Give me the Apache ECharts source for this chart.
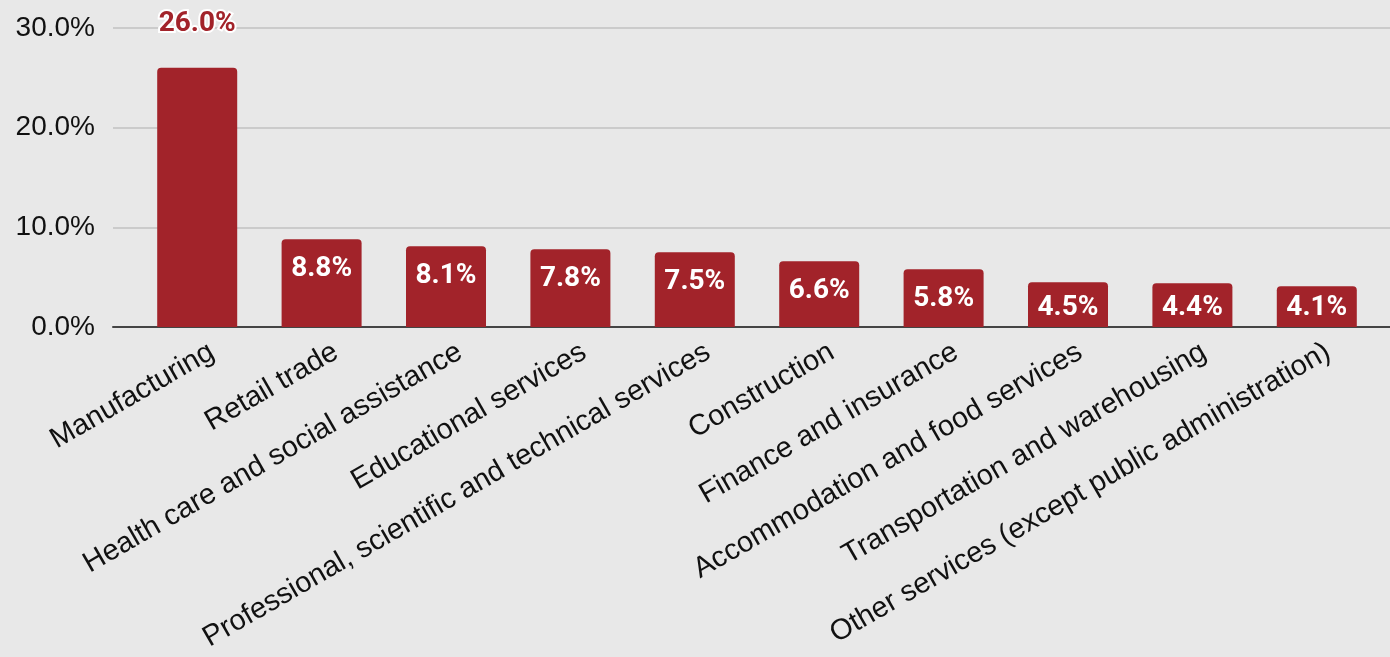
<!DOCTYPE html>
<html>
<head>
<meta charset="utf-8">
<script src="https://cdn.jsdelivr.net/npm/echarts@6/dist/echarts.min.js"></script>
<style>
html,body{margin:0;padding:0;background:#e8e8e8;}
#chart{width:1390px;height:657px;}
</style>
</head>
<body>
<div id="chart"></div>
<script>
const categories = [
  "Manufacturing",
  "Retail trade",
  "Health care and social assistance",
  "Educational services",
  "Professional, scientific and technical services",
  "Construction",
  "Finance and insurance",
  "Accommodation and food services",
  "Transportation and warehousing",
  "Other services (except public administration)"
];
const shares = [26.0, 8.8, 8.1, 7.8, 7.5, 6.6, 5.8, 4.5, 4.4, 4.1];
const yTicks = [0, 10, 20, 30];

const BAR = '#a2232a';
const gridTop = 28, gridBottom = 330, H = 657;
const pxPerUnit = (H - gridTop - gridBottom) / (yTicks[yTicks.length - 1] - yTicks[0]);

const barData = shares.map((v, i) => {
  if (i === 0) {
    return {
      value: v,
      label: {
        position: 'top', distance: 30, color: BAR,
        textBorderColor: '#ffffff', textBorderWidth: 4
      }
    };
  }
  const d = Math.max(6, Math.min(16, v * pxPerUnit - 33.5));
  return { value: v, label: { position: 'insideTop', distance: d } };
});

const FONT = '"Liberation Sans", Arial, sans-serif';
const chart = echarts.init(document.getElementById('chart'), null, {renderer: 'canvas'});
chart.setOption({
  backgroundColor: '#e8e8e8',
  animation: false,
  grid: [
    {left: 113, right: 0, top: gridTop, bottom: gridBottom},
    {left: 135, right: 11, top: gridTop, bottom: gridBottom},
    {left: 150, right: -4, top: gridTop, bottom: gridBottom}
  ],
  xAxis: [
    {gridIndex: 0, type: 'value', min: 0, max: 1, show: true,
     axisLine: {show: true, onZero: false, lineStyle: {color: '#444444', width: 2}},
     axisTick: {show: false}, axisLabel: {show: false}, splitLine: {show: false}},
    {gridIndex: 1, type: 'category', data: categories,
     axisLine: {show: false}, axisTick: {show: false}, axisLabel: {show: false}},
    {gridIndex: 2, type: 'category', data: categories,
     axisLine: {show: false}, axisTick: {show: false},
     axisLabel: {interval: 0, rotate: 30, margin: 23, fontSize: 29,
       fontFamily: FONT, color: '#111111'}}
  ],
  yAxis: [
    {gridIndex: 0, type: 'value', min: yTicks[0], max: yTicks[yTicks.length - 1], interval: 10,
     axisLine: {show: false}, axisTick: {show: false},
     axisLabel: {margin: 18, fontSize: 28, color: '#111111', fontFamily: FONT,
       formatter: v => v.toFixed(1) + '%'},
     splitLine: {show: true, lineStyle: {color: '#cbcbcb', width: 2}}},
    {gridIndex: 1, type: 'value', min: 0, max: 30, interval: 10, show: false},
    {gridIndex: 2, type: 'value', min: 0, max: 30, interval: 10, show: false}
  ],
  series: [{
    type: 'bar', xAxisIndex: 1, yAxisIndex: 1,
    data: barData, barWidth: 80,
    itemStyle: {color: BAR, borderRadius: [4, 4, 0, 0]},
    label: {show: true, color: '#ffffff', fontSize: 28, fontWeight: 'bold',
      fontFamily: 'Roboto, sans-serif', formatter: p => p.value.toFixed(1) + '%'}
  }]
});
</script>
</body>
</html>
